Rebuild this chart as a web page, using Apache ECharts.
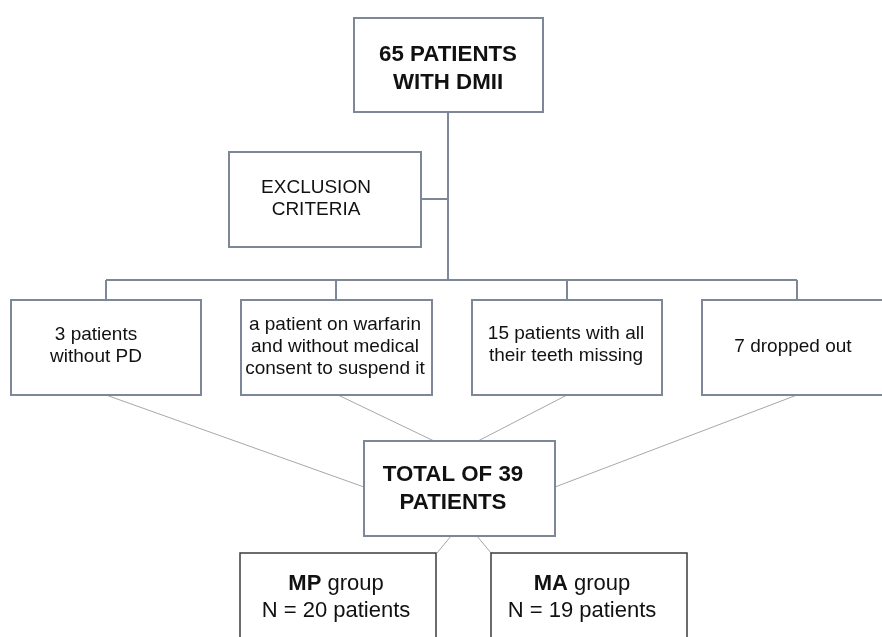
<!DOCTYPE html>
<html>
<head>
<meta charset="utf-8">
<title>Flow chart</title>
<script src="https://cdn.jsdelivr.net/npm/echarts@6/dist/echarts.min.js"></script>
<style>
  html, body { margin: 0; padding: 0; background: #fff; }
</style>
</head>
<body>
<div id="main" style="width: 882px; height: 637px;"></div>
<script type="text/javascript">
// box texts ({b|..} = bold part)
var boxTexts = [
  '65 PATIENTS\nWITH DMII',
  'EXCLUSION\nCRITERIA',
  '3 patients\nwithout PD',
  'a patient on warfarin\nand without medical\nconsent to suspend it',
  '15 patients with all\ntheir teeth missing',
  '7 dropped out',
  'TOTAL OF 39\nPATIENTS',
  '{b|MP} group\nN = 20 patients',
  '{b|MA} group\nN = 19 patients'
];
var boxKinds = ['head', 'note', 'excl', 'excl', 'excl', 'excl', 'head', 'group', 'group'];

// layout: box rectangle [x0, y0, x1, y1] and text centre [tx, ty], pixel units of the page
var boxRects = [
  [354, 18, 543, 112],
  [229, 152, 421, 247],
  [11, 300, 201, 395],
  [241, 300, 432, 395],
  [472, 300, 662, 395],
  [702, 300, 895, 395],
  [364, 441, 555, 536],
  [240, 553, 436, 660],
  [491, 553, 687, 660]
];
var textPos = [
  [448, 69], [316, 199], [96, 346], [335, 347], [566, 345],
  [793, 347], [453, 489], [336, 597], [582, 597]
];

// connectors: [x1, y1, x2, y2], tree = dark, link = thin grey
var treeLines = [
  [448, 112, 448, 280],
  [421, 199, 448, 199],
  [106, 280, 797, 280],
  [106, 280, 106, 300],
  [336, 280, 336, 300],
  [567, 280, 567, 300],
  [797, 280, 797, 300]
];
var linkLines = [
  [106, 395, 364, 487],
  [338, 395, 434, 441],
  [567, 395, 478, 441],
  [797, 395, 555, 487],
  [451, 536, 437, 553],
  [477, 536, 491, 553]
];

var myChart = echarts.init(document.getElementById('main'));

var fontFam = '"Liberation Sans", Arial, sans-serif';
var kindStyle = {
  head:  { size: 22.3, lh: 28, weight: 'bold', stroke: '#7d8797', lw: 2 },
  note:  { size: 19, lh: 21.5, weight: 'normal', stroke: '#7d8797', lw: 2 },
  excl:  { size: 19, lh: 22, weight: 'normal', stroke: '#7d8797', lw: 2 },
  group: { size: 22, lh: 27, weight: 'normal', stroke: '#3c3c3c', lw: 1.5 }
};

function renderBox(params, api) {
  var i = api.value(0);
  var r = boxRects[i];
  var p0 = api.coord([r[0], r[1]]);
  var p1 = api.coord([r[2], r[3]]);
  var t = api.coord(textPos[i]);
  var k = kindStyle[boxKinds[i]];
  return {
    type: 'group',
    children: [{
      type: 'rect',
      shape: { x: p0[0], y: p0[1], width: p1[0] - p0[0], height: p1[1] - p0[1] },
      style: { fill: '#fff', stroke: k.stroke, lineWidth: k.lw }
    }, {
      type: 'text',
      style: {
        text: boxTexts[i],
        x: t[0], y: t[1],
        align: 'center', verticalAlign: 'middle',
        fontFamily: fontFam, fontSize: k.size, fontWeight: k.weight,
        lineHeight: k.lh, fill: '#111',
        rich: {
          b: { fontFamily: fontFam, fontSize: k.size, fontWeight: 'bold', lineHeight: k.lh, fill: '#111' }
        }
      }
    }]
  };
}

function lineRenderer(color, width) {
  return function (params, api) {
    var a = api.coord([api.value(0), api.value(1)]);
    var b = api.coord([api.value(2), api.value(3)]);
    return {
      type: 'line',
      shape: { x1: a[0], y1: a[1], x2: b[0], y2: b[1] },
      style: { stroke: color, lineWidth: width }
    };
  };
}

var option = {
  animation: false,
  backgroundColor: '#fff',
  grid: { left: 0, right: 0, top: 0, bottom: 0 },
  xAxis: { type: 'value', min: 0, max: 882, show: false },
  yAxis: { type: 'value', min: 0, max: 637, inverse: true, show: false },
  series: [{
    type: 'custom',
    name: 'links',
    renderItem: lineRenderer('#a8a8a8', 1),
    data: linkLines,
    encode: { x: [0, 2], y: [1, 3] },
    silent: true
  }, {
    type: 'custom',
    name: 'tree',
    renderItem: lineRenderer('#7d8797', 2),
    data: treeLines,
    encode: { x: [0, 2], y: [1, 3] },
    silent: true
  }, {
    type: 'custom',
    name: 'boxes',
    renderItem: renderBox,
    data: boxTexts.map(function (s, i) { return [i]; }),
    encode: { x: -1, y: -1 },
    silent: true
  }]
};
myChart.setOption(option);
</script>
</body>
</html>
